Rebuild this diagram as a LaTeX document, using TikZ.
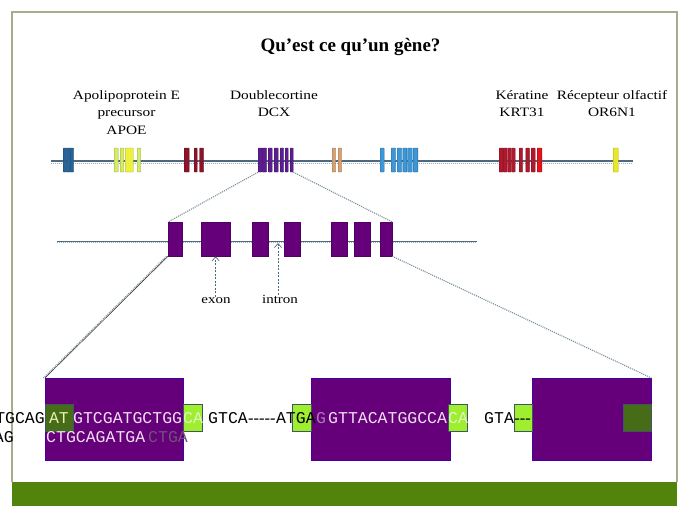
\documentclass[tikz,border=0pt]{standalone}
\usepackage{fontspec}
\setmainfont{Liberation Serif}
\newfontfamily\labelfont[FakeStretch=1.2]{Liberation Serif}
\newfontfamily\seqfont{Liberation Mono}
\usetikzlibrary{arrows.meta}
\definecolor{exonpurple}{RGB}{102,0,122}
\definecolor{darkgreen}{RGB}{70,108,24}
\definecolor{lightgreen}{RGB}{160,238,48}
\definecolor{bandgreen}{RGB}{82,132,12}
\definecolor{framegray}{RGB}{168,172,140}
\definecolor{slate}{RGB}{78,106,122}
\definecolor{seqpale}{RGB}{242,224,242}
\definecolor{seqlime}{RGB}{232,240,176}
\definecolor{seqfaint}{RGB}{222,246,196}
\definecolor{seqghost}{RGB}{175,120,185}
\definecolor{seqmuted}{RGB}{112,82,122}
\definecolor{barblue}{RGB}{40,100,150}
\definecolor{barlime}{RGB}{212,236,100}
\definecolor{baryellow}{RGB}{236,242,60}
\definecolor{barmaroon}{RGB}{140,20,40}
\definecolor{barviolet}{RGB}{92,30,142}
\definecolor{bartan}{RGB}{216,160,112}
\definecolor{barsky}{RGB}{60,150,215}
\definecolor{barred}{RGB}{175,25,45}
\definecolor{barbright}{RGB}{226,20,30}
\definecolor{barolf}{RGB}{232,232,40}
% single hyphen, no ligature
\newcommand\hy{-\kern0pt}

\begin{document}
\begin{tikzpicture}[x=1pt, y=-1pt,
  bar/.style={draw=#1!70!black, fill=#1, line width=0.4pt, minimum height=24pt,
    inner sep=0pt, anchor=west, rounded corners=0.5pt},
  exon/.style={fill=exonpurple, draw=exonpurple!80!black, line width=0.3pt,
    minimum height=34pt, inner sep=0pt, anchor=north west},
  bigexon/.style={fill=exonpurple, draw=exonpurple!70!blue, line width=0.5pt,
    minimum height=82pt, inner sep=0pt, anchor=north west},
  splice/.style={fill=#1, draw=slate!80!black, line width=0.6pt,
    minimum height=27pt, inner sep=0pt, anchor=north west},
  genelabel/.style={font=\labelfont\fontsize{12.8}{17.5}\selectfont,
    align=center, anchor=north, inner sep=0pt},
  smalllabel/.style={font=\labelfont\fontsize{12.5}{14}\selectfont, anchor=base, inner sep=0pt},
  seq/.style={font=\seqfont\fontsize{16.5}{18}\selectfont, inner sep=0pt, anchor=base west},
  seqdash/.style={font=\rmfamily\fontsize{16.5}{18}\selectfont, inner sep=0pt, anchor=base west},
  chromline/.style={draw=slate, line width=1.1pt},
  chromdots/.style={draw=slate!55, densely dotted, line width=1pt},
  zoomline/.style={draw=slate!75, densely dotted, line width=1.1pt},
  pointer/.style={draw=slate, dash pattern=on 2pt off 1.5pt, line width=0.7pt,
    -{Straight Barb[length=4pt, width=7pt]}}
]
\fill[white] (0,0) rectangle (689,517);
\useasboundingbox (0,0) rectangle (689,517);

% slide frame
\draw[framegray, line width=1.5pt] (12,482) -- (12,12) -- (677,12) -- (677,482);
\fill[bandgreen] (12,482) rectangle (677,506);

\node[font=\bfseries\fontsize{19}{22}\selectfont, anchor=base] (title) at (350.5,51) {Qu’est ce qu’un gène?};

\node[genelabel] (apoelbl) at (126.5,90) {Apolipoprotein E\\precursor\\APOE};
\node[genelabel] (dcxlbl) at (274,90) {Doublecortine\\DCX};
\node[genelabel] (krtlbl) at (522,90) {Kératine\\KRT31};
\node[genelabel] (orlbl) at (612,90) {Récepteur olfactif\\OR6N1};

% chromosome
\coordinate (chromL) at (51,161);
\coordinate (chromR) at (633,161);
\draw[chromdots] ([yshift=-2pt]chromL) -- ([yshift=-2pt]chromR);
\draw[chromline] (chromL) -- (chromR);

\foreach \x/\w [count=\i] in {63/3.5,66.5/3.5,70/3.5}
  \node[bar=barblue, minimum width=\w pt] (blue\i) at (\x,160) {};
\foreach \x/\w [count=\i] in {114/4,120/3.5,137/3.5}
  \node[bar=barlime, minimum width=\w pt] (apoe\i) at (\x,160) {};
\node[bar=baryellow, minimum width=8pt] (apoe4) at (125,160) {};
\foreach \x/\w [count=\i] in {184/5,194/3,199.5/3.8}
  \node[bar=barmaroon, minimum width=\w pt] (maroon\i) at (\x,160) {};
\foreach \x/\w [count=\i] in {258/4,262/4.5,268/4,274/4,280/3.5,285/3,290/3}
  \node[bar=barviolet, minimum width=\w pt] (dcx\i) at (\x,160) {};
\foreach \x/\w [count=\i] in {332/3.5,338/3.5}
  \node[bar=bartan, minimum width=\w pt] (tan\i) at (\x,160) {};
\foreach \x/\w [count=\i] in {380/4,391/4.5,397/4.5,402.7/4,407.5/4.5,413/4.7}
  \node[bar=barsky, minimum width=\w pt] (sky\i) at (\x,160) {};
\foreach \x/\w [count=\i] in {499/3.8,503/3.8,507.5/3.5,511.5/3.5,519/3.3,525.7/3.5,531/4}
  \node[bar=barred, minimum width=\w pt] (krt\i) at (\x,160) {};
\node[bar=barbright, minimum width=4.7pt] (krt8) at (537,160) {};
\node[bar=barolf, minimum width=5pt] (olf) at (613,160) {};

% gene zoom
\coordinate (lineL) at (57,241);
\coordinate (lineR) at (477,241);
\draw[chromdots] ([yshift=-1.5pt]lineL) -- ([yshift=-1.5pt]lineR);
\draw[chromline, line width=0.9pt] (lineL) -- (lineR);

\foreach \x/\w [count=\i] in {168/14,201/29,252/16,284/16,331/16,354/16,380/12}
  \node[exon, minimum width=\w pt] (ex\i) at (\x,222) {};

\draw[zoomline] (dcx1.south west) -- (ex1.north west);
\draw[zoomline] (dcx7.south east) -- (ex7.north east);

\node[smalllabel] (exonlbl) at (216,303) {exon};
\node[smalllabel] (intronlbl) at (280,303) {intron};
\coordinate (intronpt) at (278,243);
\draw[pointer] (exonlbl.north -| ex2.south) -- (ex2.south);
\draw[pointer] (intronlbl.north -| intronpt) -- (intronpt);

% sequence zoom
\node[bigexon, minimum width=138pt] (box1) at (45,378) {};
\node[bigexon, minimum width=139pt] (box2) at (311,378) {};
\node[bigexon, minimum width=119pt] (box3) at (532,378) {};

\draw[draw=black!85, line width=0.5pt] (ex1.south west) -- (box1.north west);
\draw[zoomline] ([xshift=-1.5pt]ex1.south west) -- ([xshift=-1.5pt]box1.north west);
\draw[zoomline] (ex7.south east) -- (box3.north east);

\node[splice=darkgreen, minimum width=28pt] (dg1) at (45,404) {};
\node[splice=lightgreen, minimum width=19pt] (lg1) at (183,404) {};
\node[splice=lightgreen, minimum width=19pt] (lg2) at (292,404) {};
\node[splice=lightgreen, minimum width=19pt] (lg3) at (448,404) {};
\node[splice=lightgreen, minimum width=18pt] (lg4) at (514,404) {};
\node[splice=darkgreen, minimum width=28pt] (dg2) at (623,404) {};

\node[seq, anchor=base east] (s1) at (45,423) {TGCAG};
\node[seq, anchor=base, text=seqlime] (s2) at (59,423) {AT};
\node[seq, text=seqpale] (s3) at (73,423) {GTCGATGCTGG};
\node[seq, text=seqfaint] (s4) at (183,423) {CA};
\node[seq] (s5) at (208,423) {GTCA};
\node[seqdash] (s6) at (s5.base east) {\hy\hy\hy\hy\hy};
\node[seq] (s7) at (s6.base east) {ATGA};
\node[seq, text=seqghost] (s8) at (s7.base east) {G};
\node[seq, text=seqpale] (s9) at (328,423) {GTTACATGGCCA};
\node[seq, text=seqfaint] (s10) at (448,423) {CA};
\node[seq] (s11) at (484,423) {GTA};
\node[seqdash] (s12) at (s11.base east) {\hy\hy\hy};

\node[seq, anchor=base east] (t1) at (14,442) {AG};
\node[seq, text=seqpale] (t2) at (46,442) {CTGCAGATGA};
\node[seq, text=seqmuted] (t3) at (148,442) {CTGA};
\end{tikzpicture}
\end{document}
